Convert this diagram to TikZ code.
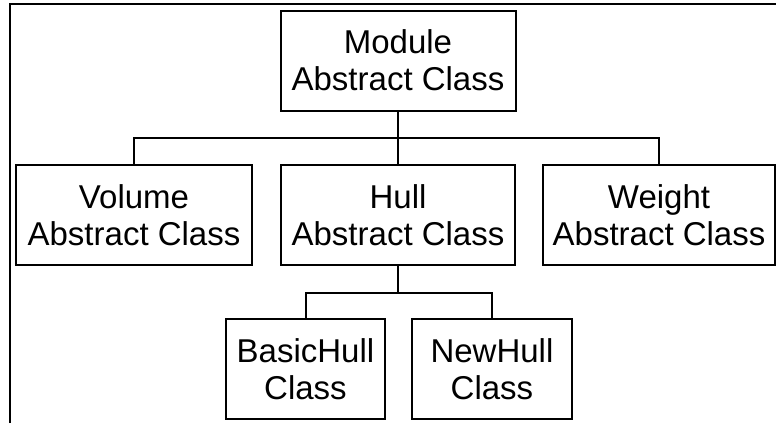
\documentclass[tikz,border=0pt]{standalone}
\usepackage{fontspec}
\setmainfont{Liberation Sans}
\begin{document}
\begin{tikzpicture}[x=0.5pt,y=-0.5pt,
  classbox/.style={draw=black, line width=1pt, rectangle, align=center,
    inner sep=0pt, minimum height=50pt,
    font=\fontsize{16.5}{18.5}\selectfont},
  link/.style={black, line width=1pt}]
\useasboundingbox (0,0) rectangle (776,423);
% frame
\draw[black, line width=0.6pt] (10,423) -- (10,4) -- (776,4);

% classes
\node[classbox, minimum width=117.5pt] (module) at (398,60.5) {Module\\Abstract Class};
\node[classbox, minimum width=118pt] (volume) at (134,215) {Volume\\Abstract Class};
\node[classbox, minimum width=117pt] (hull) at (398,215) {Hull\\Abstract Class};
\node[classbox, minimum width=116pt] (weight) at (659,215) {Weight\\Abstract Class};
\node[classbox, minimum width=79.5pt] (basic) at (305.5,369) {BasicHull\\Class};
\node[classbox, minimum width=80pt] (newhull) at (492,369) {NewHull\\Class};

% connectors
\coordinate (bus1) at (398,138);
\coordinate (bus2) at (398,293);
\draw[link] (module.south) -- (bus1);
\draw[link] (volume.north) |- (bus1) -| (weight.north);
\draw[link] (bus1) -- (hull.north);
\draw[link] (hull.south) -- (bus2);
\draw[link] (basic.north) |- (bus2) -| (newhull.north);

\end{tikzpicture}
\end{document}
